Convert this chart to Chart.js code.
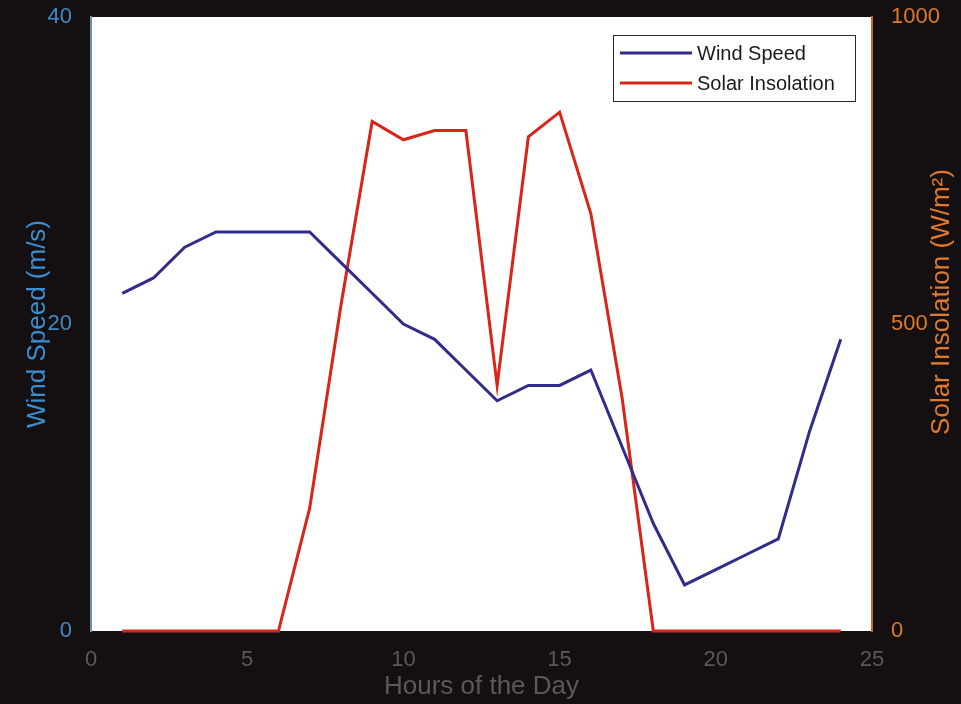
<!DOCTYPE html>
<html>
<head>
<meta charset="utf-8">
<script src="https://cdn.jsdelivr.net/npm/chart.js@4"></script>
<style>
  html, body { margin: 0; padding: 0; background: #141011; }
  #wrap { width: 961px; height: 704px; }
</style>
</head>
<body>
<div id="wrap"><canvas id="plot-wind-solar"></canvas></div>
<script>
// hours of the day (x values)
var hours = [1, 2, 3, 4, 5, 6, 7, 8, 9, 10, 11, 12, 13, 14, 15, 16, 17, 18, 19, 20, 21, 22, 23, 24];
// wind speed in m/s, left axis
var wind_speed = [22, 23, 25, 26, 26, 26, 26, 24, 22, 20, 19, 17, 15, 16, 16, 17, 12, 7, 3, 4, 5, 6, 13, 19];
// solar insolation in W/m2, right axis
var solar_insolation = [0, 0, 0, 0, 0, 0, 200, 530, 830, 800, 815, 815, 400, 805, 845, 680, 380, 0, 0, 0, 0, 0, 0, 0];

var x_ticks = [0, 5, 10, 15, 20, 25];
var wind_ticks = [0, 20, 40];
var solar_ticks = [0, 500, 1000];

var tick_font = {family: "'Liberation Sans', Arial, sans-serif", size: 22};
var title_font = {family: "'Liberation Sans', Arial, sans-serif", size: 26};

function to_points(xs, ys) {
  var pts = [];
  for (var i = 0; i < xs.length; i++) { pts.push({x: xs[i], y: ys[i]}); }
  return pts;
}

function plain_label(v) { return String(v); }

// vertical scales: fixed width, and don't let the end labels push the plot area
function fit_vertical(width) {
  return function(s) {
    s.width = width;
    s.paddingTop = 0;
    s.paddingBottom = 0;
  };
}

// background, right axis title (reads upwards like matlab) and boxed legend
var extras_plugin = {
  id: "extras",
  beforeDraw: function(chart) {
    var ctx = chart.ctx;
    var a = chart.chartArea;
    ctx.save();
    ctx.fillStyle = "#141011";
    ctx.fillRect(0, 0, chart.width, chart.height);
    ctx.fillStyle = "#ffffff";
    ctx.fillRect(a.left, a.top, a.right - a.left, a.bottom - a.top);
    ctx.restore();
  },
  afterDraw: function(chart) {
    var ctx = chart.ctx;
    var a = chart.chartArea;
    ctx.save();
    // right title
    ctx.translate(942, (a.top + a.bottom) / 2 - 22);
    ctx.rotate(-Math.PI / 2);
    ctx.font = "26px 'Liberation Sans', Arial, sans-serif";
    ctx.fillStyle = "#e07a2c";
    ctx.textAlign = "center";
    ctx.textBaseline = "middle";
    ctx.fillText("Solar Insolation (W/m\u00b2)", 0, 0);
    ctx.restore();

    // legend
    ctx.save();
    ctx.fillStyle = "#ffffff";
    ctx.fillRect(613, 35, 242, 66);
    ctx.strokeStyle = "#2b2b2b";
    ctx.lineWidth = 1;
    ctx.strokeRect(613.5, 35.5, 242, 66);
    ctx.font = "20px 'Liberation Sans', Arial, sans-serif";
    ctx.textBaseline = "middle";
    ctx.textAlign = "left";
    var ds = chart.data.datasets;
    for (var i = 0; i < ds.length; i++) {
      var yy = 53 + i * 30;
      ctx.strokeStyle = ds[i].borderColor;
      ctx.lineWidth = 3;
      ctx.beginPath();
      ctx.moveTo(620, yy);
      ctx.lineTo(692, yy);
      ctx.stroke();
      ctx.fillStyle = "#1a1a1a";
      ctx.fillText(ds[i].label, 697, yy + 1);
    }
    ctx.restore();
  }
};

var chart = new Chart("plot-wind-solar", {
  type: "line",
  data: {
    datasets: [{
      label: "Wind Speed",
      data: to_points(hours, wind_speed),
      borderColor: "rgb(48,44,140)",
      borderWidth: 3,
      pointRadius: 0,
      fill: false,
      tension: 0,
      yAxisID: "y",
      clip: false
    },
    {
      label: "Solar Insolation",
      data: to_points(hours, solar_insolation),
      borderColor: "rgb(218,36,26)",
      borderWidth: 3,
      pointRadius: 0,
      fill: false,
      tension: 0,
      yAxisID: "y1",
      clip: false
    }]
  },
  options: {
    responsive: true,
    maintainAspectRatio: false,
    animation: false,
    layout: {padding: {top: 17, left: 0, right: 0, bottom: 0}},
    plugins: {
      legend: {display: false},
      tooltip: {enabled: false}
    },
    scales: {
      x: {
        type: "linear",
        min: 0,
        max: 25,
        afterBuildTicks: function(s) { s.ticks = x_ticks.map(function(v) { return {value: v}; }); },
        afterFit: function(s) { s.height = 73; },
        grid: {display: false},
        border: {display: false},
        ticks: {color: "#5b5858", font: tick_font, padding: 8, callback: plain_label},
        title: {display: true, text: "Hours of the Day", color: "#5b5858", font: title_font, padding: {top: 0, bottom: 2}}
      },
      y: {
        position: "left",
        min: 0,
        max: 40,
        afterBuildTicks: function(s) { s.ticks = wind_ticks.map(function(v) { return {value: v}; }); },
        afterFit: fit_vertical(91),
        grid: {display: false},
        border: {display: true, color: "#6f8fb3", width: 2},
        ticks: {color: "#3f8ac8", font: tick_font, padding: 11, callback: plain_label},
        title: {display: true, text: "Wind Speed (m/s)", color: "#3a8fd2", font: title_font, padding: {top: 22, bottom: 0}}
      },
      y1: {
        position: "right",
        min: 0,
        max: 1000,
        afterBuildTicks: function(s) { s.ticks = solar_ticks.map(function(v) { return {value: v}; }); },
        afterFit: fit_vertical(89),
        grid: {display: false},
        border: {display: true, color: "#c8642a", width: 2},
        ticks: {color: "#df7a2c", font: tick_font, padding: 11, callback: plain_label}
      }
    }
  },
  plugins: [extras_plugin]
});
</script>
</body>
</html>
